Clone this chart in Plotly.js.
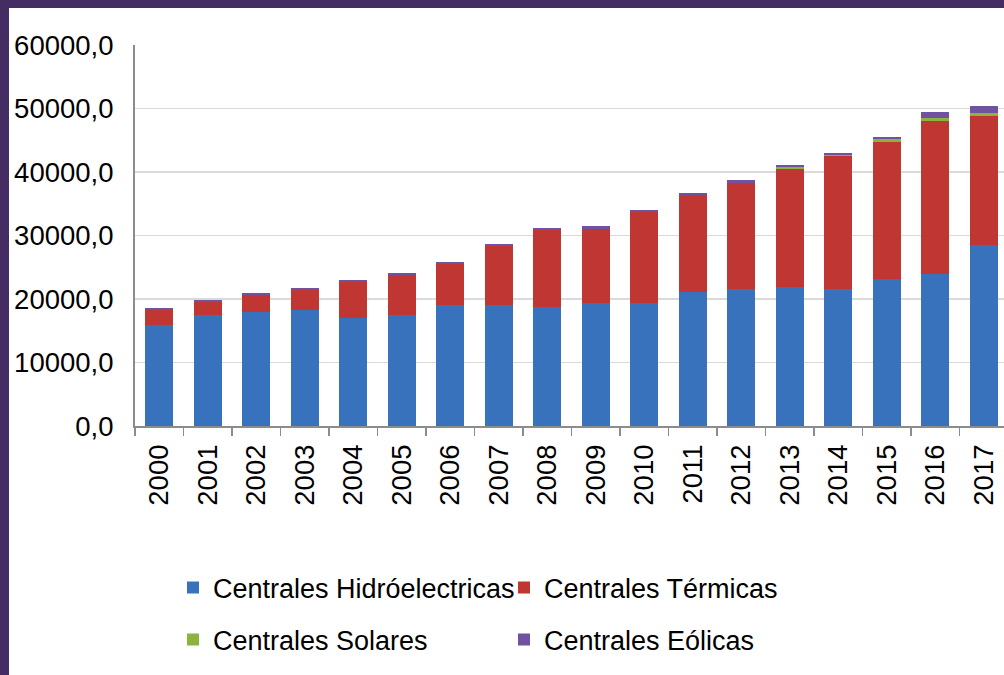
<!DOCTYPE html>
<html>
<head>
<meta charset="utf-8">
<script src="https://cdn.plot.ly/plotly-3.0.1.min.js"></script>
<style>
  html, body { margin:0; padding:0; width:1004px; height:675px; overflow:hidden; background:#432d62; }
  #chart { position:absolute; left:9px; top:8px; width:995px; height:667px; background:#fff; }
</style>
</head>
<body>
<div id="chart"></div>
<script>
const years = ["2000","2001","2002","2003","2004","2005","2006","2007","2008","2009","2010","2011","2012","2013","2014","2015","2016","2017"];
const hidro = [15900,17480,17900,18320,17060,17480,19050,19050,18690,19420,19420,21100,21530,21940,21530,23100,23940,28460];
const termicas = [2370,2050,2770,3150,5620,6350,6460,9340,12130,11650,14240,15230,16790,18530,20940,21670,24150,20410];
const solares = [0,0,0,0,0,0,0,0,0,0,0,0,0,300,150,380,380,370];
const eolicas = [330,330,300,330,300,330,360,330,290,370,290,360,380,300,330,300,1000,1150];

const names = ["Centrales Hidróelectricas","Centrales Térmicas","Centrales Solares","Centrales Eólicas"];
const colors = ["#3872bd","#bf3632","#8cb33e","#7052a0"];
const series = [hidro, termicas, solares, eolicas];
const legends = ["legend","legend","legend2","legend2"];

const FONT = "Liberation Sans, Arial, sans-serif";
const traces = series.map((s,i)=>({
  type:"bar", x:years, y:s, name:names[i], legend:legends[i],
  marker:{color:colors[i], line:{width:0}}, hoverinfo:"x+y+name"
}));

const legendBase = {
  orientation:"h", xref:"container", yref:"container", traceorder:"normal",
  x:164/995, xanchor:"left", yanchor:"middle",
  entrywidth:286, entrywidthmode:"pixels",
  font:{family:FONT, size:27, color:"#000"}, bgcolor:"rgba(0,0,0,0)", borderwidth:0
};

const layout = {
  width:995, height:667,
  margin:{l:126, r:0, t:37, b:249, pad:0},
  paper_bgcolor:"#ffffff", plot_bgcolor:"#ffffff",
  barmode:"stack", bargap:0.42,
  separators:",.",
  font:{family:FONT, size:27, color:"#000"},
  xaxis:{
    type:"category", range:[-0.5,17.42], fixedrange:true,
    showline:true, linecolor:"#8c8c8c", linewidth:1.5,
    ticks:"outside", tickson:"boundaries", ticklen:8, tickcolor:"#8c8c8c", tickwidth:1.5,
    tickangle:-90, ticklabelstandoff:6,
    tickfont:{family:FONT, size:27.5, color:"#000"},
    showgrid:false, zeroline:false
  },
  yaxis:{
    range:[0,60000], tickvals:[0,10000,20000,30000,40000,50000,60000],
    tickformat:".1f", fixedrange:true,
    showline:true, linecolor:"#8c8c8c", linewidth:2,
    ticks:"", ticklabelstandoff:14,
    showgrid:true, gridcolor:"#dadada", gridwidth:1.5,
    zeroline:false,
    tickfont:{family:FONT, size:27.5, color:"#000"}
  },
  legend:Object.assign({}, legendBase, {y:1-580/667}),
  legend2:Object.assign({}, legendBase, {y:1-632/667}),
  showlegend:true
};

Plotly.newPlot("chart", traces, layout, {displayModeBar:false, staticPlot:true});
</script>
</body>
</html>
